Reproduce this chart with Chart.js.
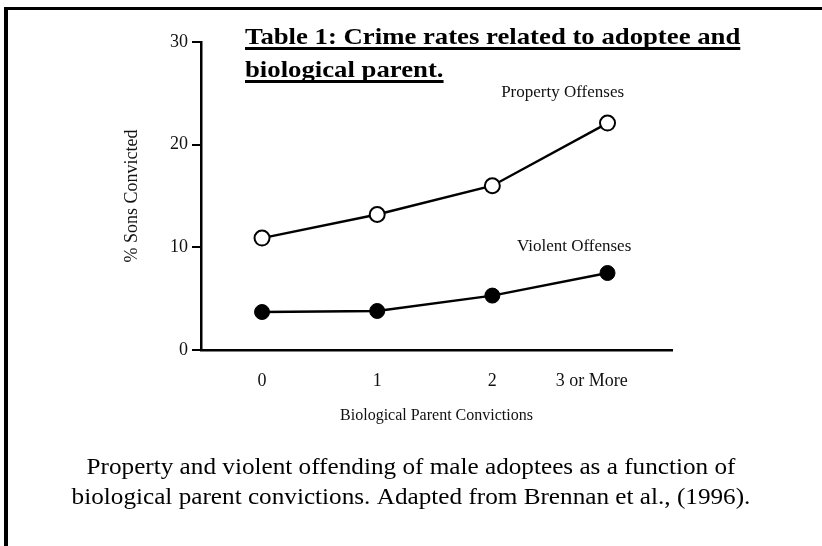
<!DOCTYPE html>
<html>
<head>
<meta charset="utf-8">
<script src="https://cdn.jsdelivr.net/npm/chart.js@4/dist/chart.umd.min.js"></script>
<style>
  html, body { margin:0; padding:0; background:#fff; }
  #wrap { position:relative; width:822px; height:546px; overflow:hidden; }
  #frameTop { position:absolute; left:4px; top:7px; width:818px; height:3px; background:#000; }
  #frameLeft { position:absolute; left:4px; top:7px; width:4px; height:539px; background:#000; }
  #cv { position:absolute; left:0; top:0; }
</style>
</head>
<body>
<div id="wrap">
  <canvas id="cv" width="822" height="546"></canvas>
  <div id="frameTop"></div>
  <div id="frameLeft"></div>
</div>
<script>
const categories = ['0', '1', '2', '3 or More'];
const propertyVals = [10.9, 13.2, 16.0, 22.1];
const violentVals  = [3.7, 3.8, 5.3, 7.5];
const yTicks = [0, 10, 20, 30];

const headingLines = ['Table 1: Crime rates related to adoptee and', 'biological parent.'];
const captionLines = ['Property and violent offending of male adoptees as a function of',
                      'biological parent convictions. Adapted from Brennan et al., (1996).'];

const labelFont = '"Liberation Serif", "Times New Roman", serif';

// series names written next to the lines, as in the scanned figure
const seriesNotes = {
  id:'seriesNotes',
  afterDatasetsDraw(chart) {
    const {ctx, scales:{x, y}} = chart;
    ctx.save();
    ctx.fillStyle = '#111';
    ctx.font = '17px ' + labelFont;
    ctx.textAlign = 'center';
    ctx.textBaseline = 'alphabetic';
    ctx.fillText('Property Offenses', x.getPixelForValue(2.61), y.getPixelForValue(24.6));
    ctx.fillText('Violent Offenses',  x.getPixelForValue(2.71), y.getPixelForValue(9.6));
    ctx.restore();
  }
};

// underlined heading at the top and the two-line caption under the plot
const pageText = {
  id:'pageText',
  afterDraw(chart) {
    const ctx = chart.ctx;
    ctx.save();
    ctx.fillStyle = '#000';
    ctx.textBaseline = 'alphabetic';
    ctx.font = 'bold 24px ' + labelFont;
    ctx.textAlign = 'left';
    headingLines.forEach((t, i) => {
      ctx.save();
      ctx.translate(245, 44 + i*33);
      ctx.scale(1.114, 1);
      ctx.fillText(t, 0, 0);
      ctx.fillRect(0, 3, ctx.measureText(t).width, 3);
      ctx.restore();
    });
    ctx.font = '24px ' + labelFont;
    ctx.textAlign = 'center';
    captionLines.forEach((t, i) => {
      ctx.save();
      ctx.translate(411, 474 + i*30);
      ctx.scale(1.05, 1);
      ctx.fillText(t, 0, 0);
      ctx.restore();
    });
    ctx.restore();
  }
};

new Chart(document.getElementById('cv'), {
  type:'line',
  data:{
    datasets:[
      { label:'Property Offenses', data: propertyVals.map((v,i)=>({x:i, y:v})),
        borderColor:'#000', borderWidth:2.4, pointRadius:7.5, pointBorderWidth:2,
        pointBackgroundColor:'#fff', pointBorderColor:'#000' },
      { label:'Violent Offenses', data: violentVals.map((v,i)=>({x:i, y:v})),
        borderColor:'#000', borderWidth:2.4, pointRadius:7.5, pointBorderWidth:1,
        pointBackgroundColor:'#000', pointBorderColor:'#000' }
    ]
  },
  options:{
    responsive:false, animation:false,
    layout:{ padding:{ left:81, right:150, top:42, bottom:121 } },
    plugins:{ legend:{display:false}, tooltip:{enabled:false} },
    scales:{
      x:{
        type:'linear', min:-0.53, max:3.56,
        afterBuildTicks: s => { s.ticks = categories.map((_, i) => ({value:i})); },
        afterFit: s => { s.height = 75; },
        // the last label sits a little left of its point in the original
        ticks:{ callback: v => v === 3 ? categories[v] + '\u00a0'.repeat(7) : categories[v],
                color:'#111', padding:20, maxRotation:0, font:{family:labelFont, size:18} },
        grid:{ display:true, drawOnChartArea:false, drawTicks:false },
        border:{ display:true, color:'#000', width:2.5 },
        title:{ display:true, text:'Biological Parent Convictions', color:'#111',
                font:{family:labelFont, size:16}, padding:{top:0, bottom:0} }
      },
      y:{
        min:0, max:30,
        afterBuildTicks: s => { s.ticks = yTicks.map(v => ({value:v})); },
        afterFit: s => { s.width = 120; },
        ticks:{ color:'#111', padding:4, font:{family:labelFont, size:18} },
        grid:{ display:true, drawOnChartArea:false, drawTicks:true, tickLength:9, color:'#000', lineWidth:2 },
        border:{ display:true, color:'#000', width:2.5 },
        title:{ display:true, text:'% Sons Convicted', color:'#111',
                font:{family:labelFont, size:18}, padding:{top:40, bottom:0} }
      }
    }
  },
  plugins:[seriesNotes, pageText]
});
</script>
</body>
</html>
